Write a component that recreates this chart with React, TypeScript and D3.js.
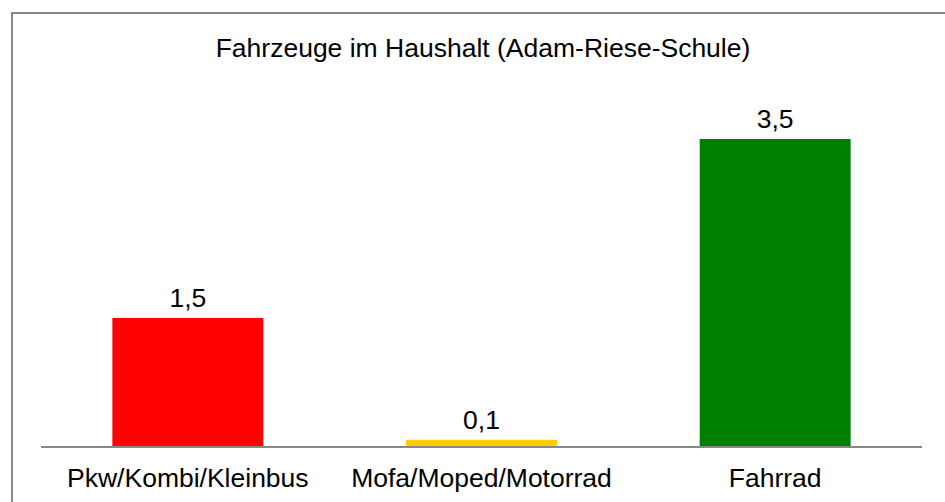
import React from "react";
import * as d3 from "d3";

const categories = ["Pkw/Kombi/Kleinbus", "Mofa/Moped/Motorrad", "Fahrrad"];
const values = [1.46, 0.07, 3.5];
const labels = ["1,5", "0,1", "3,5"];
const colors = ["#FF0000", "#FFCC00", "#008000"];
const title = "Fahrzeuge im Haushalt (Adam-Riese-Schule)";

export default function App() {
  const W = 945, H = 502;
  const x = d3.scaleBand<string>().domain(categories).range([41, 922]).paddingInner(0.486).paddingOuter(0.243);
  const y = d3.scaleLinear().domain([0, 3.5]).range([446, 139]);
  const font = "'Liberation Sans', Arial, sans-serif";
  const fs = 26.5;
  return (
    <svg width={W} height={H} style={{ position: "absolute", left: 0, top: 0, background: "#fff" }}>
      <rect x={12} y={13} width={W} height={H} fill="#fff" stroke="#888" strokeWidth={2} />
      <text x={483} y={57} textAnchor="middle" fontFamily={font} fontSize={fs} fill="#000">{title}</text>
      {categories.map((c, i) => (
        <g key={c}>
          <rect x={x(c)} y={y(values[i])} width={x.bandwidth()} height={y(0) - y(values[i])} fill={colors[i]} />
          <text x={x(c)! + x.bandwidth() / 2} y={y(values[i]) - 11} textAnchor="middle" fontFamily={font} fontSize={fs} fill="#000">{labels[i]}</text>
          <text x={x(c)! + x.bandwidth() / 2} y={487} textAnchor="middle" fontFamily={font} fontSize={fs} fill="#000">{c}</text>
        </g>
      ))}
      <line x1={41} x2={922} y1={447} y2={447} stroke="#888" strokeWidth={2} />
    </svg>
  );
}
